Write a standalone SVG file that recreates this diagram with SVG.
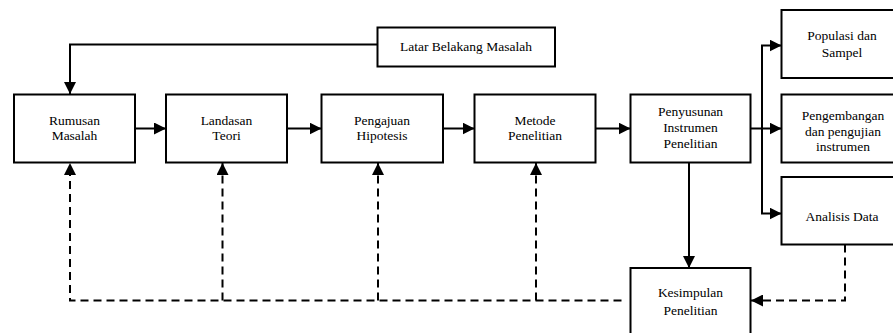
<svg xmlns="http://www.w3.org/2000/svg" width="893" height="333" viewBox="0 0 893 333">
<style>
.box{fill:#fff;stroke:#000;stroke-width:2}
.t text{font-family:"Liberation Serif","Times New Roman",serif;font-size:13.5px;fill:#000;text-anchor:middle}
.c{fill:none;stroke:#000;stroke-width:2}
.d{fill:none;stroke:#000;stroke-width:2;stroke-dasharray:8 5}
</style>
<defs>
<marker id="ah" markerUnits="userSpaceOnUse" markerWidth="12" markerHeight="12" refX="12" refY="6" orient="auto"><path d="M0,0 L12,6 L0,12 z" fill="#000"/></marker>
</defs>
<rect width="893" height="333" fill="#fff"/>
<g id="connectors">
<path class="c" d="M377.5,44.5 H70 V94" marker-end="url(#ah)"/>
<path class="c" d="M135,128.5 H166" marker-end="url(#ah)"/>
<path class="c" d="M287,128.5 H321.5" marker-end="url(#ah)"/>
<path class="c" d="M443,128.5 H474.5" marker-end="url(#ah)"/>
<path class="c" d="M595.5,128.5 H630.5" marker-end="url(#ah)"/>
<path class="c" d="M750.5,128.5 H781.5" marker-end="url(#ah)"/>
<path class="c" d="M762,45.5 V213.5"/>
<path class="c" d="M761,45.5 H781.5" marker-end="url(#ah)"/>
<path class="c" d="M761,213.5 H781.5" marker-end="url(#ah)"/>
<path class="c" d="M689,162.5 V268" marker-end="url(#ah)"/>
<path class="d" d="M621.5,300.5 H70 V163" marker-end="url(#ah)"/>
<path class="d" d="M222.5,300.5 V163" marker-end="url(#ah)"/>
<path class="d" d="M378,300.5 V163" marker-end="url(#ah)"/>
<path class="d" d="M536,300.5 V163" marker-end="url(#ah)"/>
<path class="d" d="M845,244.5 V300.5 H751" marker-end="url(#ah)"/>
</g>
<g class="t">
<g id="latar"><rect class="box" x="377.5" y="27.5" width="177.5" height="39"/><text x="466" y="51.4">Latar Belakang Masalah</text></g>
<g id="rumusan"><rect class="box" x="14" y="94.5" width="121" height="68"/><text x="74.5" y="124.7">Rumusan</text><text x="74.5" y="140.4">Masalah</text></g>
<g id="landasan"><rect class="box" x="166" y="94.5" width="121" height="68"/><text x="226.5" y="124.7">Landasan</text><text x="226.5" y="140.4">Teori</text></g>
<g id="pengajuan"><rect class="box" x="321.5" y="94.5" width="121.5" height="68"/><text x="382" y="124.7">Pengajuan</text><text x="382" y="140.4">Hipotesis</text></g>
<g id="metode"><rect class="box" x="474.5" y="94.5" width="121" height="68"/><text x="535" y="124.7">Metode</text><text x="535" y="140.4">Penelitian</text></g>
<g id="penyusunan"><rect class="box" x="630.5" y="94.5" width="120" height="68"/><text x="690.5" y="116.4">Penyusunan</text><text x="690.5" y="132.4">Instrumen</text><text x="690.5" y="148">Penelitian</text></g>
<g id="populasi"><rect class="box" x="781.5" y="10" width="121" height="68"/><text x="842" y="39.7">Populasi dan</text><text x="842" y="57.4">Sampel</text></g>
<g id="pengembangan"><rect class="box" x="781.5" y="94.5" width="121" height="68"/><text x="843" y="119.7">Pengembangan</text><text x="843" y="136.2">dan pengujian</text><text x="843" y="151.3">instrumen</text></g>
<g id="analisis"><rect class="box" x="781.5" y="177" width="121" height="67.5"/><text x="842" y="221.4">Analisis Data</text></g>
<g id="kesimpulan"><rect class="box" x="630.5" y="268" width="120" height="70"/><text x="690.5" y="297.4">Kesimpulan</text><text x="690.5" y="314.7">Penelitian</text></g>
</g>
</svg>
